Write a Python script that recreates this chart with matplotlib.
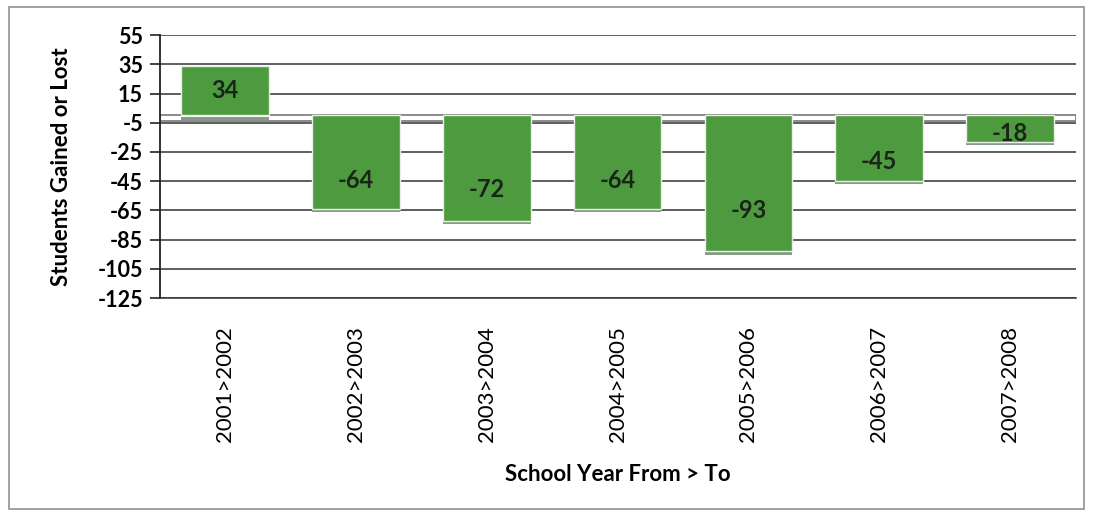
import matplotlib.pyplot as plt
import matplotlib.patches as mpatches
import numpy as np

# data
periods = ['2001>2002', '2002>2003', '2003>2004', '2004>2005',
           '2005>2006', '2006>2007', '2007>2008']
change = [34, -64, -72, -64, -93, -45, -18]
yticks = [55, 35, 15, -5, -25, -45, -65, -85, -105, -125]

plt.rcParams['font.family'] = ['Lato', 'DejaVu Sans']

fig = plt.figure(figsize=(10.93, 5.15), dpi=100)
ax = fig.add_axes([0.146, 0.421, 0.838, 0.511])

x = np.arange(len(periods))
green = '#4e9a3e'

# floor slab at zero
ax.add_patch(mpatches.Rectangle((-0.5, -3.5), len(periods), 3.5, facecolor='white',
                                edgecolor='#777777', linewidth=1.2, zorder=2))

# shadow at the far end of each bar
for xi, v in zip(x, change):
    ax.add_patch(mpatches.Rectangle((xi - 0.335, v - 2.2 if v < 0 else -3.2), 0.67, 2.2,
                                    facecolor='#8a9a8a', edgecolor='none', zorder=2.5))

ax.bar(x, change, width=0.67, color=green, edgecolor='#e8efe6', linewidth=1.0, zorder=3)

for xi, v in zip(x, change):
    ty = v * 0.5 if v > 0 else v * 0.7
    ax.text(xi, ty, str(v), ha='center', va='center', fontsize=17, fontweight='bold',
            color='#1a241a', zorder=4)

ax.set_xlim(-0.5, len(periods) - 0.5)
ax.set_ylim(-125, 55)
ax.set_yticks(yticks)
ax.set_yticklabels([str(t) for t in yticks], fontsize=15.5, fontweight='bold')
ax.set_xticks(x)
ax.set_xticklabels(periods, rotation=90, fontsize=16)
ax.tick_params(axis='x', length=0, pad=20)
ax.tick_params(axis='y', length=7, width=1.2, color='#222222', pad=5)

ax.grid(axis='y', color='#333333', linewidth=1.1, zorder=0)
ax.set_axisbelow(True)
for s in ['top', 'right']:
    ax.spines[s].set_visible(False)
ax.spines['left'].set_color('#222222')
ax.spines['left'].set_linewidth(1.3)
ax.spines['bottom'].set_color('#333333')
ax.spines['bottom'].set_linewidth(1.1)

ax.set_ylabel('Students Gained or Lost', fontsize=16, fontweight='bold', labelpad=18)
ax.set_xlabel('School Year From > To', fontsize=16, fontweight='bold', labelpad=16)

# outer chart border
fig.add_artist(mpatches.Rectangle((0.008, 0.012), 0.984, 0.975, transform=fig.transFigure,
                                  fill=False, edgecolor='#9a9a9a', linewidth=1.3))

fig.savefig('out.png', dpi=100)
